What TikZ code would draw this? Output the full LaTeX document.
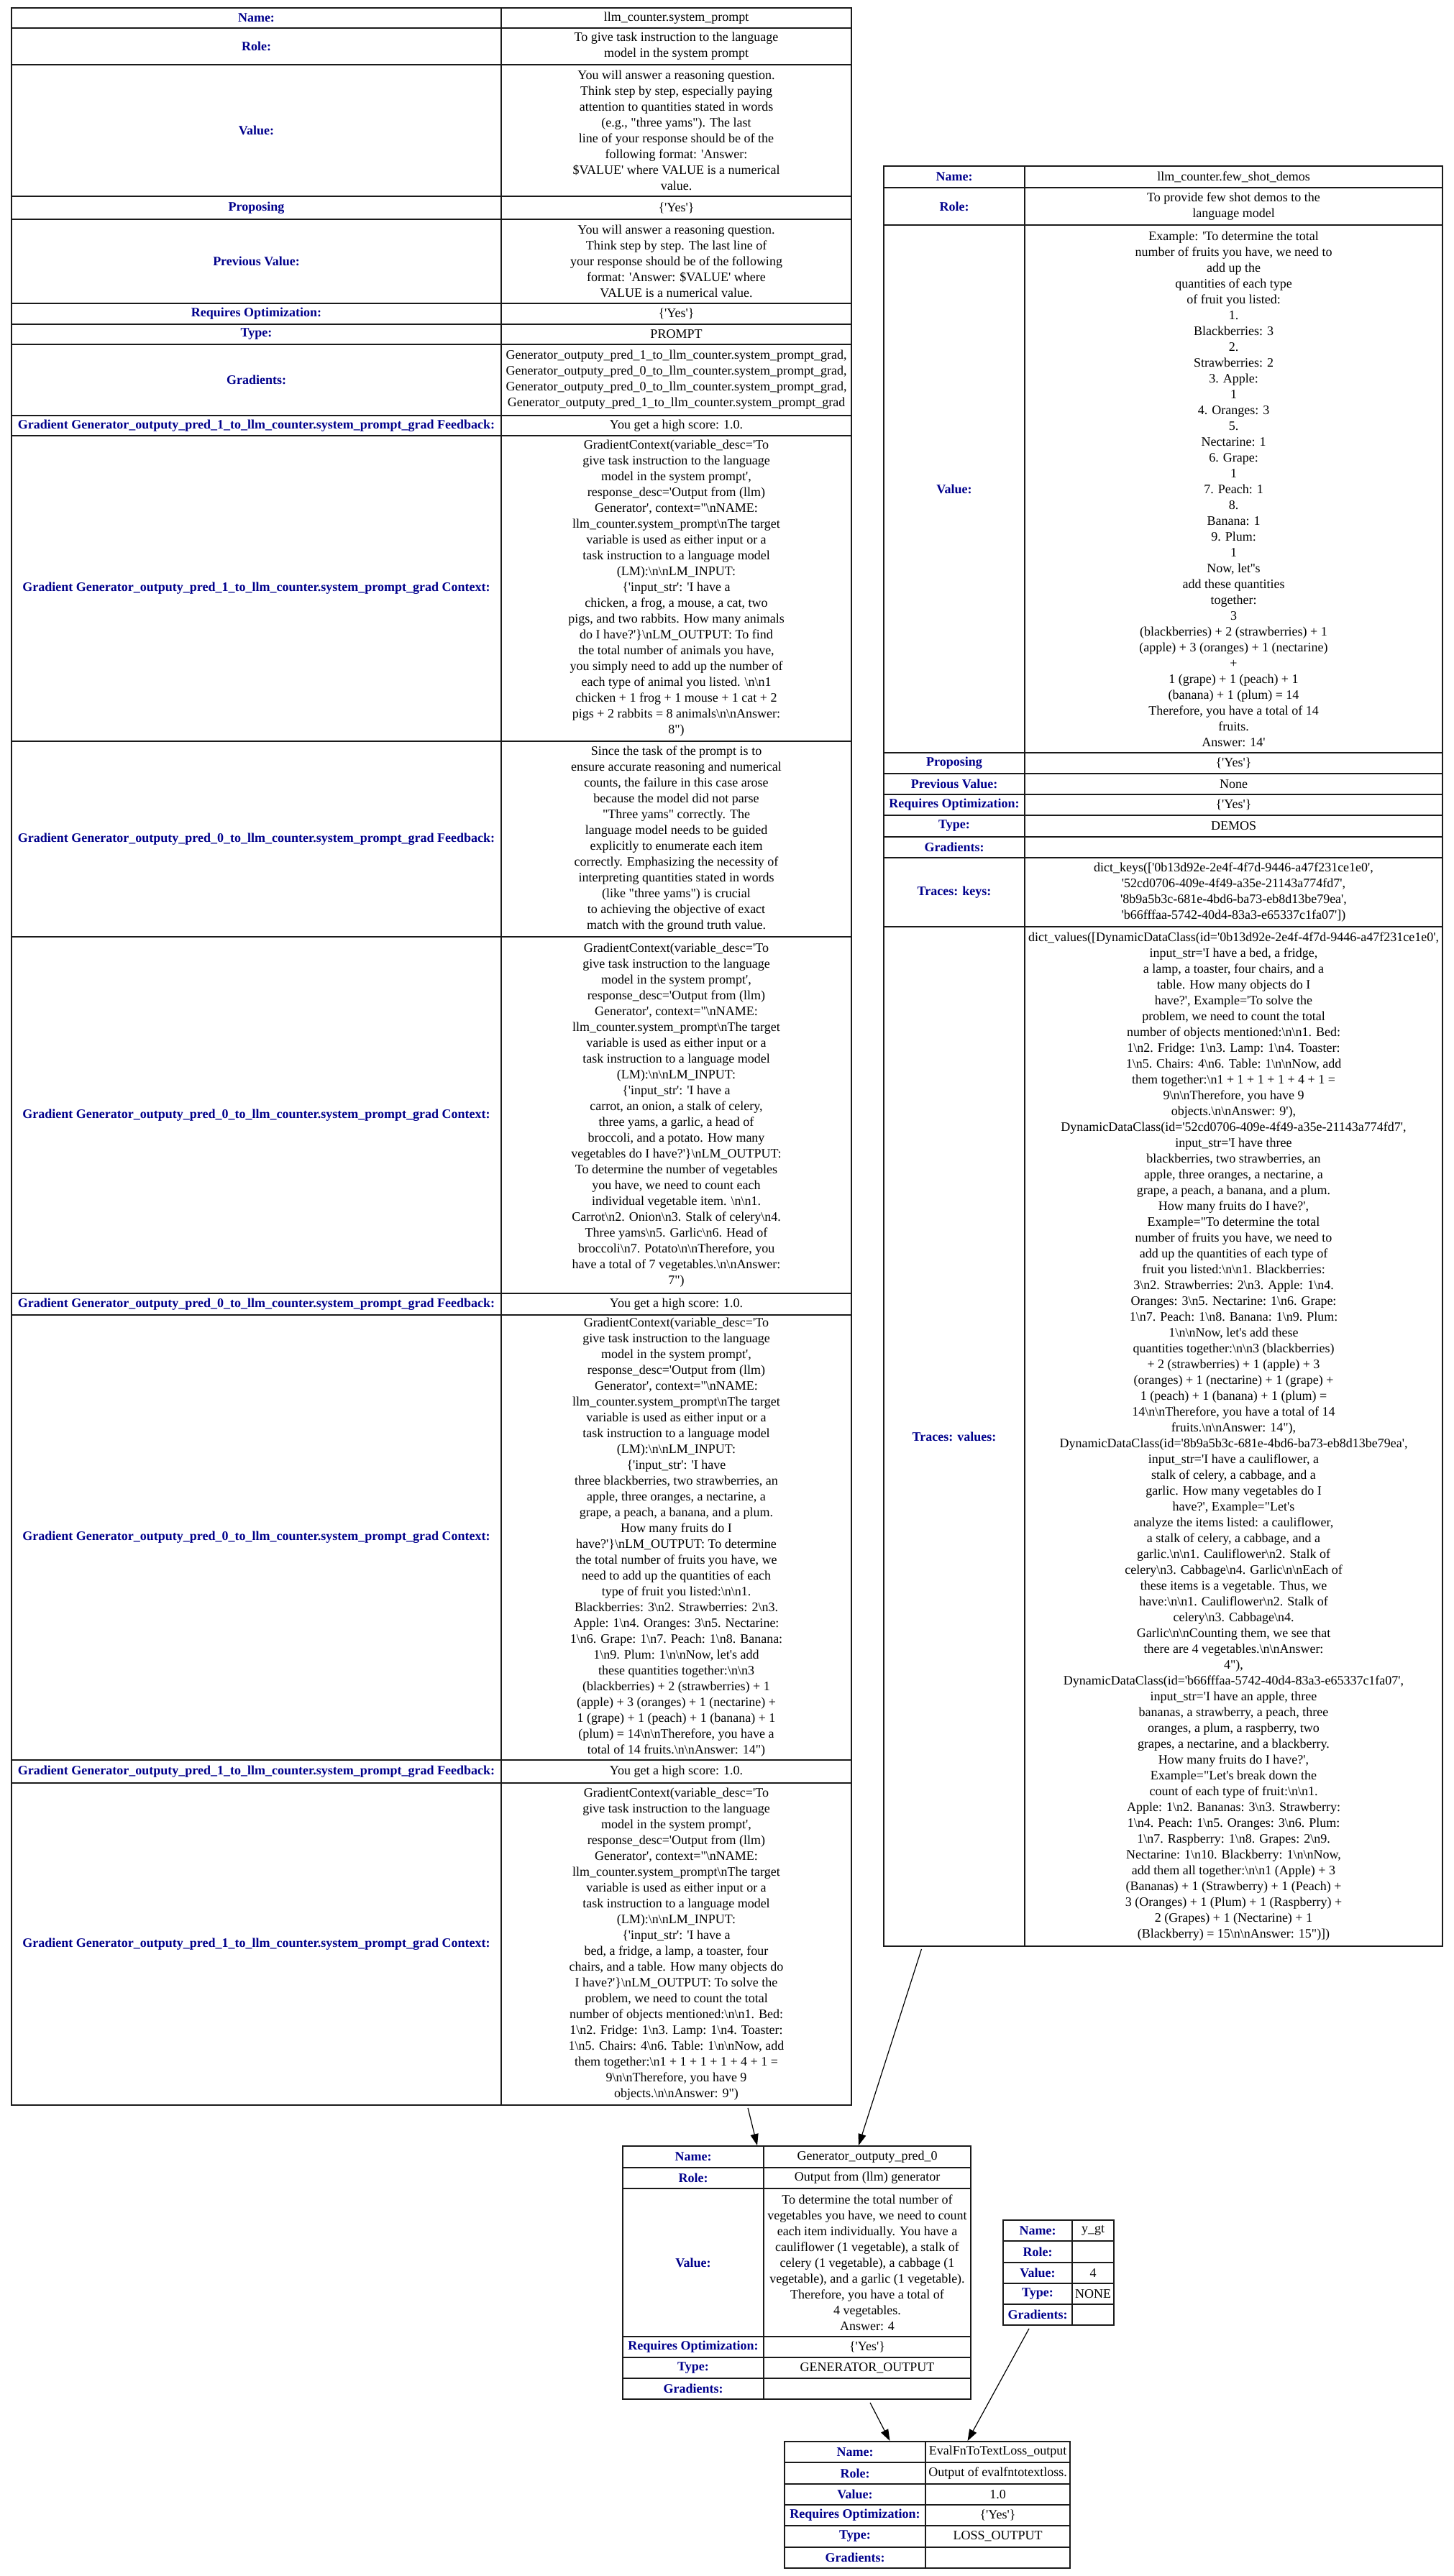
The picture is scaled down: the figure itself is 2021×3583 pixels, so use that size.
\documentclass[tikz,border=0pt]{standalone}
\usepackage{fontspec}
\newfontfamily\gvfont{Liberation Serif}
\usepackage{xcolor}
\definecolor{gvLabel}{HTML}{00008B}
\definecolor{gvLine}{HTML}{1A1A1A}
\usepackage{tikz}
\usetikzlibrary{arrows.meta,fit,positioning}
\newcommand{\bsl}{\textbackslash}
\tikzset{
    keycell/.style={
        draw=gvLine,
        rectangle,
        line width=1.4pt,
        inner sep=0pt,
        align=center,
        font=\gvfont\fontsize{18}{22}\selectfont\bfseries\color{gvLabel}
    },
    valcell/.style={
        draw=gvLine,
        rectangle,
        line width=1.4pt,
        inner sep=0pt,
        align=center,
        font=\gvfont\fontsize{18}{22}\selectfont
    },
    tablebox/.style={
        draw=none,
        rectangle,
        inner sep=0pt
    },
    edge/.style={
        -{Triangle[length=16pt,width=11pt]},
        line width=1.2pt,
        color=black
    }
}
% one row of a table: prefix, top, bottom, key, value
\newcommand{\settable}[3]{\def\tabL{#1}\def\tabM{#2}\def\tabR{#3}}
\newcommand{\gvrow}[5]{%
    \node[keycell, minimum width={(\tabM-\tabL)*1pt}, minimum height={(#3-#2)*1pt}]
        (#1-key) at ({(\tabL+\tabM)/2},{(#2+#3)/2}) {#4};
    \node[valcell, minimum width={(\tabR-\tabM)*1pt}, minimum height={(#3-#2)*1pt}]
        (#1-val) at ({(\tabM+\tabR)/2},{(#2+#3)/2}) {#5};
}

\begin{document}
\begin{tikzpicture}[x=1pt, y=-1pt]
    \useasboundingbox (0,0) rectangle (2021,3583);

    % System prompt variable
    \settable{16}{697}{1184}
    \gvrow{sp-name}{11}{39}{Name:}{llm\_counter.system\_prompt}
    \gvrow{sp-role}{39}{90}{Role:}{To give task instruction to the language\\model in the system prompt}
    \gvrow{sp-value}{90}{273}{Value:}{You will answer a reasoning question.\\Think step by step, especially paying\\attention to quantities stated in words\\(e.g., "three yams"). The last\\line of your response should be of the\\following format: 'Answer:\\\$VALUE' where VALUE is a numerical\\value.}
    \gvrow{sp-prop}{273}{305}{Proposing}{\{'Yes'\}}
    \gvrow{sp-prev}{305}{422}{Previous Value:}{You will answer a reasoning question.\\Think step by step. The last line of\\your response should be of the following\\format: 'Answer: \$VALUE' where\\VALUE is a numerical value.}
    \gvrow{sp-req}{422}{451}{Requires Optimization:}{\{'Yes'\}}
    \gvrow{sp-type}{451}{479}{Type:}{PROMPT}
    \gvrow{sp-grads}{479}{578}{Gradients:}{Generator\_outputy\_pred\_1\_to\_llm\_counter.system\_prompt\_grad,\\Generator\_outputy\_pred\_0\_to\_llm\_counter.system\_prompt\_grad,\\Generator\_outputy\_pred\_0\_to\_llm\_counter.system\_prompt\_grad,\\Generator\_outputy\_pred\_1\_to\_llm\_counter.system\_prompt\_grad}
    \gvrow{sp-fb1}{578}{606}{Gradient Generator\_outputy\_pred\_1\_to\_llm\_counter.system\_prompt\_grad Feedback:}{You get a high score: 1.0.}
    \gvrow{sp-ctx1}{606}{1031}{Gradient Generator\_outputy\_pred\_1\_to\_llm\_counter.system\_prompt\_grad Context:}{GradientContext(variable\_desc='To\\give task instruction to the language\\model in the system prompt',\\response\_desc='Output from (llm)\\Generator', context="\bsl nNAME:\\llm\_counter.system\_prompt\bsl nThe target\\variable is used as either input or a\\task instruction to a language model\\(LM):\bsl n\bsl nLM\_INPUT:\\\{'input\_str': 'I have a\\chicken, a frog, a mouse, a cat, two\\pigs, and two rabbits. How many animals\\do I have?'\}\bsl nLM\_OUTPUT: To find\\the total number of animals you have,\\you simply need to add up the number of\\each type of animal you listed. \bsl n\bsl n1\\chicken + 1 frog + 1 mouse + 1 cat + 2\\pigs + 2 rabbits = 8 animals\bsl n\bsl nAnswer:\\8")}
    \gvrow{sp-fb2}{1031}{1303}{Gradient Generator\_outputy\_pred\_0\_to\_llm\_counter.system\_prompt\_grad Feedback:}{Since the task of the prompt is to\\ensure accurate reasoning and numerical\\counts, the failure in this case arose\\because the model did not parse\\"Three yams" correctly. The\\language model needs to be guided\\explicitly to enumerate each item\\correctly. Emphasizing the necessity of\\interpreting quantities stated in words\\(like "three yams") is crucial\\to achieving the objective of exact\\match with the ground truth value.}
    \gvrow{sp-ctx2}{1303}{1799}{Gradient Generator\_outputy\_pred\_0\_to\_llm\_counter.system\_prompt\_grad Context:}{GradientContext(variable\_desc='To\\give task instruction to the language\\model in the system prompt',\\response\_desc='Output from (llm)\\Generator', context="\bsl nNAME:\\llm\_counter.system\_prompt\bsl nThe target\\variable is used as either input or a\\task instruction to a language model\\(LM):\bsl n\bsl nLM\_INPUT:\\\{'input\_str': 'I have a\\carrot, an onion, a stalk of celery,\\three yams, a garlic, a head of\\broccoli, and a potato. How many\\vegetables do I have?'\}\bsl nLM\_OUTPUT:\\To determine the number of vegetables\\you have, we need to count each\\individual vegetable item. \bsl n\bsl n1.\\Carrot\bsl n2. Onion\bsl n3. Stalk of celery\bsl n4.\\Three yams\bsl n5. Garlic\bsl n6. Head of\\broccoli\bsl n7. Potato\bsl n\bsl nTherefore, you\\have a total of 7 vegetables.\bsl n\bsl nAnswer:\\7")}
    \gvrow{sp-fb3}{1799}{1829}{Gradient Generator\_outputy\_pred\_0\_to\_llm\_counter.system\_prompt\_grad Feedback:}{You get a high score: 1.0.}
    \gvrow{sp-ctx3}{1829}{2448}{Gradient Generator\_outputy\_pred\_0\_to\_llm\_counter.system\_prompt\_grad Context:}{GradientContext(variable\_desc='To\\give task instruction to the language\\model in the system prompt',\\response\_desc='Output from (llm)\\Generator', context="\bsl nNAME:\\llm\_counter.system\_prompt\bsl nThe target\\variable is used as either input or a\\task instruction to a language model\\(LM):\bsl n\bsl nLM\_INPUT:\\\{'input\_str': 'I have\\three blackberries, two strawberries, an\\apple, three oranges, a nectarine, a\\grape, a peach, a banana, and a plum.\\How many fruits do I\\have?'\}\bsl nLM\_OUTPUT: To determine\\the total number of fruits you have, we\\need to add up the quantities of each\\type of fruit you listed:\bsl n\bsl n1.\\Blackberries: 3\bsl n2. Strawberries: 2\bsl n3.\\Apple: 1\bsl n4. Oranges: 3\bsl n5. Nectarine:\\1\bsl n6. Grape: 1\bsl n7. Peach: 1\bsl n8. Banana:\\1\bsl n9. Plum: 1\bsl n\bsl nNow, let's add\\these quantities together:\bsl n\bsl n3\\(blackberries) + 2 (strawberries) + 1\\(apple) + 3 (oranges) + 1 (nectarine) +\\1 (grape) + 1 (peach) + 1 (banana) + 1\\(plum) = 14\bsl n\bsl nTherefore, you have a\\total of 14 fruits.\bsl n\bsl nAnswer: 14")}
    \gvrow{sp-fb4}{2448}{2480}{Gradient Generator\_outputy\_pred\_1\_to\_llm\_counter.system\_prompt\_grad Feedback:}{You get a high score: 1.0.}
    \gvrow{sp-ctx4}{2480}{2928}{Gradient Generator\_outputy\_pred\_1\_to\_llm\_counter.system\_prompt\_grad Context:}{GradientContext(variable\_desc='To\\give task instruction to the language\\model in the system prompt',\\response\_desc='Output from (llm)\\Generator', context="\bsl nNAME:\\llm\_counter.system\_prompt\bsl nThe target\\variable is used as either input or a\\task instruction to a language model\\(LM):\bsl n\bsl nLM\_INPUT:\\\{'input\_str': 'I have a\\bed, a fridge, a lamp, a toaster, four\\chairs, and a table. How many objects do\\I have?'\}\bsl nLM\_OUTPUT: To solve the\\problem, we need to count the total\\number of objects mentioned:\bsl n\bsl n1. Bed:\\1\bsl n2. Fridge: 1\bsl n3. Lamp: 1\bsl n4. Toaster:\\1\bsl n5. Chairs: 4\bsl n6. Table: 1\bsl n\bsl nNow, add\\them together:\bsl n1 + 1 + 1 + 1 + 4 + 1 =\\9\bsl n\bsl nTherefore, you have 9\\objects.\bsl n\bsl nAnswer: 9")}
    \node[tablebox, fit=(sp-name-key)(sp-ctx4-val)] (sysprompt) {};

    % Few shot demos variable
    \settable{1229}{1425}{2006}
    \gvrow{fs-name}{231}{261}{Name:}{llm\_counter.few\_shot\_demos}
    \gvrow{fs-role}{261}{313}{Role:}{To provide few shot demos to the\\language model}
    \gvrow{fs-value}{313}{1047}{Value:}{Example: 'To determine the total\\number of fruits you have, we need to\\add up the\\quantities of each type\\of fruit you listed:\\1.\\Blackberries: 3\\2.\\Strawberries: 2\\3. Apple:\\1\\4. Oranges: 3\\5.\\Nectarine: 1\\6. Grape:\\1\\7. Peach: 1\\8.\\Banana: 1\\9. Plum:\\1\\Now, let''s\\add these quantities\\together:\\3\\(blackberries) + 2 (strawberries) + 1\\(apple) + 3 (oranges) + 1 (nectarine)\\+\\1 (grape) + 1 (peach) + 1\\(banana) + 1 (plum) = 14\\Therefore, you have a total of 14\\fruits.\\Answer: 14'}
    \gvrow{fs-prop}{1047}{1076}{Proposing}{\{'Yes'\}}
    \gvrow{fs-prev}{1076}{1105}{Previous Value:}{None}
    \gvrow{fs-req}{1105}{1134}{Requires Optimization:}{\{'Yes'\}}
    \gvrow{fs-type}{1134}{1164}{Type:}{DEMOS}
    \gvrow{fs-grads}{1164}{1193}{Gradients:}{}
    \gvrow{fs-keys}{1193}{1289}{Traces: keys:}{dict\_keys(['0b13d92e-2e4f-4f7d-9446-a47f231ce1e0',\\'52cd0706-409e-4f49-a35e-21143a774fd7',\\'8b9a5b3c-681e-4bd6-ba73-eb8d13be79ea',\\'b66fffaa-5742-40d4-83a3-e65337c1fa07'])}
    \gvrow{fs-values}{1289}{2707}{Traces: values:}{dict\_values([DynamicDataClass(id='0b13d92e-2e4f-4f7d-9446-a47f231ce1e0',\\input\_str='I have a bed, a fridge,\\a lamp, a toaster, four chairs, and a\\table. How many objects do I\\have?', Example='To solve the\\problem, we need to count the total\\number of objects mentioned:\bsl n\bsl n1. Bed:\\1\bsl n2. Fridge: 1\bsl n3. Lamp: 1\bsl n4. Toaster:\\1\bsl n5. Chairs: 4\bsl n6. Table: 1\bsl n\bsl nNow, add\\them together:\bsl n1 + 1 + 1 + 1 + 4 + 1 =\\9\bsl n\bsl nTherefore, you have 9\\objects.\bsl n\bsl nAnswer: 9'),\\DynamicDataClass(id='52cd0706-409e-4f49-a35e-21143a774fd7',\\input\_str='I have three\\blackberries, two strawberries, an\\apple, three oranges, a nectarine, a\\grape, a peach, a banana, and a plum.\\How many fruits do I have?',\\Example="To determine the total\\number of fruits you have, we need to\\add up the quantities of each type of\\fruit you listed:\bsl n\bsl n1. Blackberries:\\3\bsl n2. Strawberries: 2\bsl n3. Apple: 1\bsl n4.\\Oranges: 3\bsl n5. Nectarine: 1\bsl n6. Grape:\\1\bsl n7. Peach: 1\bsl n8. Banana: 1\bsl n9. Plum:\\1\bsl n\bsl nNow, let's add these\\quantities together:\bsl n\bsl n3 (blackberries)\\+ 2 (strawberries) + 1 (apple) + 3\\(oranges) + 1 (nectarine) + 1 (grape) +\\1 (peach) + 1 (banana) + 1 (plum) =\\14\bsl n\bsl nTherefore, you have a total of 14\\fruits.\bsl n\bsl nAnswer: 14"),\\DynamicDataClass(id='8b9a5b3c-681e-4bd6-ba73-eb8d13be79ea',\\input\_str='I have a cauliflower, a\\stalk of celery, a cabbage, and a\\garlic. How many vegetables do I\\have?', Example="Let's\\analyze the items listed: a cauliflower,\\a stalk of celery, a cabbage, and a\\garlic.\bsl n\bsl n1. Cauliflower\bsl n2. Stalk of\\celery\bsl n3. Cabbage\bsl n4. Garlic\bsl n\bsl nEach of\\these items is a vegetable. Thus, we\\have:\bsl n\bsl n1. Cauliflower\bsl n2. Stalk of\\celery\bsl n3. Cabbage\bsl n4.\\Garlic\bsl n\bsl nCounting them, we see that\\there are 4 vegetables.\bsl n\bsl nAnswer:\\4"),\\DynamicDataClass(id='b66fffaa-5742-40d4-83a3-e65337c1fa07',\\input\_str='I have an apple, three\\bananas, a strawberry, a peach, three\\oranges, a plum, a raspberry, two\\grapes, a nectarine, and a blackberry.\\How many fruits do I have?',\\Example="Let's break down the\\count of each type of fruit:\bsl n\bsl n1.\\Apple: 1\bsl n2. Bananas: 3\bsl n3. Strawberry:\\1\bsl n4. Peach: 1\bsl n5. Oranges: 3\bsl n6. Plum:\\1\bsl n7. Raspberry: 1\bsl n8. Grapes: 2\bsl n9.\\Nectarine: 1\bsl n10. Blackberry: 1\bsl n\bsl nNow,\\add them all together:\bsl n\bsl n1 (Apple) + 3\\(Bananas) + 1 (Strawberry) + 1 (Peach) +\\3 (Oranges) + 1 (Plum) + 1 (Raspberry) +\\2 (Grapes) + 1 (Nectarine) + 1\\(Blackberry) = 15\bsl n\bsl nAnswer: 15")])}
    \node[tablebox, fit=(fs-name-key)(fs-values-val)] (fewshot) {};

    % Generator output
    \settable{866}{1062}{1350}
    \gvrow{gen-name}{2985}{3015}{Name:}{Generator\_outputy\_pred\_0}
    \gvrow{gen-role}{3015}{3044}{Role:}{Output from (llm) generator}
    \gvrow{gen-value}{3044}{3250}{Value:}{To determine the total number of\\vegetables you have, we need to count\\each item individually. You have a\\cauliflower (1 vegetable), a stalk of\\celery (1 vegetable), a cabbage (1\\vegetable), and a garlic (1 vegetable).\\Therefore, you have a total of\\4 vegetables.\\Answer: 4}
    \gvrow{gen-req}{3250}{3279}{Requires Optimization:}{\{'Yes'\}}
    \gvrow{gen-type}{3279}{3308}{Type:}{GENERATOR\_OUTPUT}
    \gvrow{gen-grads}{3308}{3337}{Gradients:}{}
    \node[tablebox, fit=(gen-name-key)(gen-grads-val)] (genout) {};

    % Ground truth
    \settable{1395}{1491}{1549}
    \gvrow{gt-name}{3088}{3117}{Name:}{y\_gt}
    \gvrow{gt-role}{3117}{3147}{Role:}{}
    \gvrow{gt-value}{3147}{3176}{Value:}{4}
    \gvrow{gt-type}{3176}{3205}{Type:}{NONE}
    \gvrow{gt-grads}{3205}{3234}{Gradients:}{}
    \node[tablebox, fit=(gt-name-key)(gt-grads-val)] (ygt) {};

    % Loss output
    \settable{1091}{1287}{1488}
    \gvrow{loss-name}{3396}{3425}{Name:}{EvalFnToTextLoss\_output}
    \gvrow{loss-role}{3425}{3455}{Role:}{Output of evalfntotextloss.}
    \gvrow{loss-value}{3455}{3484}{Value:}{1.0}
    \gvrow{loss-req}{3484}{3513}{Requires Optimization:}{\{'Yes'\}}
    \gvrow{loss-type}{3513}{3543}{Type:}{LOSS\_OUTPUT}
    \gvrow{loss-grads}{3543}{3572}{Gradients:}{}
    \node[tablebox, fit=(loss-name-key)(loss-grads-val)] (loss) {};

    % Connections
    \draw[edge] ([xshift=440pt, yshift=-3pt]sysprompt.south) -- ([xshift=-55pt]genout.north);
    \draw[edge] ([xshift=-336pt, yshift=-3pt]fewshot.south) -- ([xshift=86pt]genout.north);
    \draw[edge] ([xshift=102pt, yshift=-4pt]genout.south) -- ([xshift=-52pt]loss.north);
    \draw[edge] ([xshift=-41pt, yshift=-4pt]ygt.south) -- ([xshift=56pt]loss.north);
\end{tikzpicture}
\end{document}
